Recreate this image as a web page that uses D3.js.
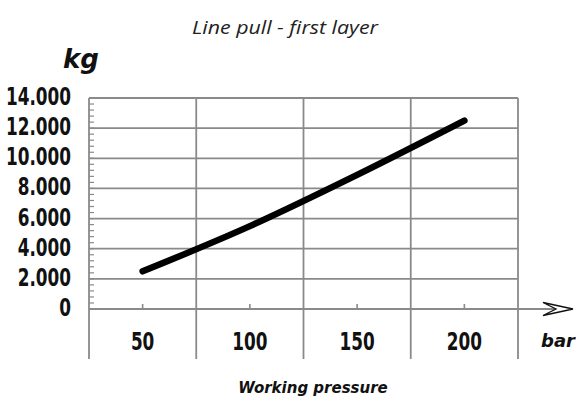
<!DOCTYPE html>
<html>
<head>
<meta charset="utf-8">
<script src="https://cdn.jsdelivr.net/npm/d3@7"></script>
<style>
  body { margin: 0; background: #fff; }
  .num { font-family: "DejaVu Sans", sans-serif; font-stretch: condensed; font-weight: bold; font-size: 24px; fill: #111; }
  .unit { font-family: "DejaVu Sans", sans-serif; font-weight: bold; font-style: oblique; fill: #111; }
</style>
</head>
<body>
<div id="main"></div>
<script>
// data
var pressures = ["50", "100", "150", "200"];
var linePull = [2500, 5500, 8900, 12500];
var yTicks = [0, 2000, 4000, 6000, 8000, 10000, 12000, 14000];
var yLabels = ["0", "2.000", "4.000", "6.000", "8.000", "10.000", "12.000", "14.000"];

var svg = d3.select("#main").append("svg")
  .attr("width", 580)
  .attr("height", 407);

var plotLeft = 89, plotRight = 518, plotTop = 98, plotBottom = 309, frameBottom = 359;
var squeeze = 0.78;   // digits in the original are tall and narrow

var x = d3.scaleBand().domain(pressures).range([plotLeft, plotRight]);
var y = d3.scaleLinear().domain([0, 14000]).range([plotBottom, plotTop]);

var grid = svg.append("g").attr("stroke", "#8a8a8a").attr("stroke-width", 1.8);

// horizontal gridlines
grid.selectAll(".hline").data(yTicks).enter().append("line")
  .attr("x1", plotLeft).attr("x2", plotRight)
  .attr("y1", function(d) { return y(d); })
  .attr("y2", function(d) { return y(d); });

// vertical lines between categories (run down below the axis)
var edges = pressures.map(function(p) { return x(p); }).concat([plotRight]);
grid.selectAll(".vline").data(edges).enter().append("line")
  .attr("x1", function(d) { return d; }).attr("x2", function(d) { return d; })
  .attr("y1", plotTop).attr("y2", frameBottom);

// minor ticks on y axis
var minor = d3.range(0, 14000, 400);
svg.append("g").attr("stroke", "#8a8a8a").attr("stroke-width", 1.2)
  .selectAll("line").data(minor).enter().append("line")
  .attr("x1", plotLeft).attr("x2", plotLeft + 5)
  .attr("y1", function(d) { return y(d); })
  .attr("y2", function(d) { return y(d); });

// small ticks at category centers
svg.append("g").attr("stroke", "#8a8a8a").attr("stroke-width", 1.6)
  .selectAll("line").data(pressures).enter().append("line")
  .attr("x1", function(d) { return x(d) + x.bandwidth() / 2; })
  .attr("x2", function(d) { return x(d) + x.bandwidth() / 2; })
  .attr("y1", plotBottom).attr("y2", plotBottom - 5);

// axis extension + arrow
svg.append("line")
  .attr("x1", plotRight).attr("x2", 566)
  .attr("y1", plotBottom).attr("y2", plotBottom)
  .attr("stroke", "#8a8a8a").attr("stroke-width", 1.8);
svg.append("path")
  .attr("d", "M543,302.5 L573,309 L543,315.5 L556,309 Z")
  .attr("fill", "#fff").attr("stroke", "#111").attr("stroke-width", 1.3)
  .attr("stroke-linejoin", "miter");

// y labels
svg.append("g").selectAll("text").data(yTicks).enter().append("text")
  .attr("class", "num")
  .attr("x", 71)
  .attr("y", function(d) { return y(d) + 7; })
  .attr("text-anchor", "end")
  .text(function(d, i) { return yLabels[i]; });

// x labels
svg.append("g").selectAll("text").data(pressures).enter().append("text")
  .attr("class", "num")
  .attr("x", function(d) { return x(d) + x.bandwidth() / 2; })
  .attr("y", 350)
  .attr("text-anchor", "middle")
  .text(function(d) { return d; });

// narrow the digits
svg.selectAll("text.num").each(function() {
  var w = this.getComputedTextLength();
  d3.select(this).attr("textLength", w * squeeze).attr("lengthAdjust", "spacingAndGlyphs");
});

// the line
var line = d3.line()
  .x(function(d, i) { return x(pressures[i]) + x.bandwidth() / 2; })
  .y(function(d) { return y(d); })
  .curve(d3.curveMonotoneX);

svg.append("path")
  .datum(linePull)
  .attr("d", line)
  .attr("fill", "none")
  .attr("stroke", "#000")
  .attr("stroke-width", 6.5)
  .attr("stroke-linecap", "round");

// titles
svg.append("text")
  .attr("x", 285).attr("y", 34)
  .attr("text-anchor", "middle")
  .attr("textLength", 186)
  .attr("lengthAdjust", "spacingAndGlyphs")
  .style("font-family", "'Open Sans', 'DejaVu Sans', sans-serif")
  .style("font-style", "italic").style("font-weight", 400)
  .style("font-size", "18px").style("fill", "#222")
  .text("Line pull - first layer");

svg.append("text")
  .attr("class", "unit")
  .attr("x", 63).attr("y", 68)
  .style("font-size", "26px")
  .text("kg");

svg.append("text")
  .attr("class", "unit")
  .attr("x", 541).attr("y", 347)
  .style("font-size", "18px")
  .text("bar");

svg.append("text")
  .attr("class", "unit")
  .attr("x", 313).attr("y", 393)
  .attr("text-anchor", "middle")
  .style("font-size", "15px")
  .text("Working pressure");
</script>
</body>
</html>
